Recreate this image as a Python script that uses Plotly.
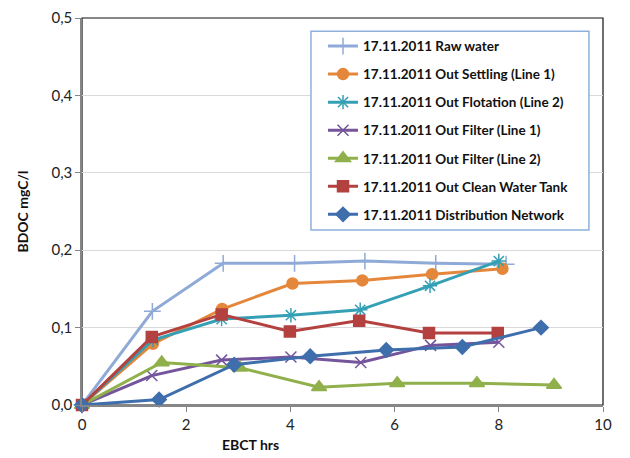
import plotly.graph_objects as go

series_names = [
    "17.11.2011 Raw water",
    "17.11.2011 Out Settling (Line 1)",
    "17.11.2011 Out Flotation (Line 2)",
    "17.11.2011 Out Filter (Line 1)",
    "17.11.2011 Out Filter (Line 2)",
    "17.11.2011 Out Clean Water Tank",
    "17.11.2011 Distribution Network",
]

raw_x = [0, 1.35, 2.71, 4.08, 5.43, 6.79, 8.14]
raw_y = [0, 0.121, 0.183, 0.183, 0.186, 0.183, 0.182]
settling_x = [0, 1.36, 2.69, 4.04, 5.38, 6.72, 8.07]
settling_y = [0, 0.079, 0.124, 0.157, 0.161, 0.169, 0.176]
flotation_x = [0, 1.36, 2.68, 4.01, 5.34, 6.68, 8.0]
flotation_y = [0, 0.084, 0.111, 0.116, 0.123, 0.154, 0.186]
filter1_x = [0, 1.34, 2.68, 4.01, 5.35, 6.69, 8.0]
filter1_y = [0, 0.038, 0.058, 0.062, 0.055, 0.077, 0.081]
filter2_x = [0, 1.53, 3.03, 4.55, 6.05, 7.58, 9.06]
filter2_y = [0, 0.055, 0.048, 0.023, 0.028, 0.028, 0.026]
tank_x = [0, 1.34, 2.68, 3.99, 5.32, 6.66, 7.98]
tank_y = [0, 0.088, 0.117, 0.095, 0.109, 0.093, 0.093]
dist_x = [0, 1.48, 2.92, 4.38, 5.84, 7.3, 8.81]
dist_y = [0, 0.007, 0.052, 0.063, 0.071, 0.075, 0.100]

xs = [raw_x, settling_x, flotation_x, filter1_x, filter2_x, tank_x, dist_x]
ys = [raw_y, settling_y, flotation_y, filter1_y, filter2_y, tank_y, dist_y]
colors = ["#8FAAD7", "#E5873A", "#35A0B5", "#74559C", "#8FB04B", "#B3413F", "#3E6EAC"]
symbols = ["cross-thin-open", "circle", "asterisk-open", "x-thin-open",
           "triangle-up", "square", "diamond"]
sizes = [12, 11, 12, 11, 13, 11, 11]

FONT = "Lato"

fig = go.Figure()
for i, name in enumerate(series_names):
    fig.add_trace(go.Scatter(
        x=xs[i], y=ys[i], name=name, mode="lines+markers",
        legendgroup=f"g{i}",
        line=dict(color=colors[i], width=3),
        marker=dict(symbol=symbols[i], size=sizes[i], color=colors[i],
                    line=dict(color=colors[i], width=1.5)),
        cliponaxis=False,
    ))

# The page adds an 8px body margin; the figure is sized to compensate.
fig.update_layout(
    width=622, height=450,
    margin=dict(l=74, r=27, t=10, b=53, autoexpand=False),
    paper_bgcolor="white", plot_bgcolor="white",
    separators=", ",
    font=dict(family=FONT, size=14, color="#222222"),
    showlegend=True,
    legend=dict(
        x=0.4626, y=0.967, xanchor="left", yanchor="top",
        borderwidth=0, bgcolor="rgba(0,0,0,0)",
        font=dict(family=FONT, size=13.5, color="#111111", weight="bold"),
        tracegroupgap=7.5, itemwidth=30,
    ),
    xaxis=dict(
        range=[0, 10], dtick=2, tick0=0, automargin=False,
        showgrid=False, zeroline=False,
        showline=True, linecolor="#868686", linewidth=1.5,
        ticks="outside", ticklen=5, tickcolor="#868686",
        tickfont=dict(family=FONT, size=15, color="#222222"),
    ),
    yaxis=dict(
        range=[0, 0.5], dtick=0.1, tick0=0, tickformat=".1f", automargin=False,
        showgrid=True, gridcolor="#D9D9D9", gridwidth=1,
        zeroline=False,
        showline=True, linecolor="#868686", linewidth=1.5,
        ticks="outside", ticklen=5, tickcolor="#868686",
        tickfont=dict(family=FONT, size=15, color="#222222"),
        title=dict(text="BDOC mgC/l", standoff=20,
                   font=dict(family=FONT, size=14, color="#111111", weight="bold")),
    ),
    shapes=[
        dict(type="rect", xref="paper", yref="paper", x0=0, y0=0, x1=1, y1=1,
             line=dict(color="#111111", width=1.2), layer="below"),
        dict(type="rect", xref="paper", yref="paper", x0=0.4395, y0=0.452,
             x1=0.973, y1=0.966, fillcolor="white",
             line=dict(color="#8DB0DD", width=1.5), layer="above"),
    ],
    annotations=[dict(text="<b>EBCT hrs</b>", xref="paper", yref="paper",
                      x=0.324, y=-0.103, xanchor="center", yanchor="middle",
                      showarrow=False,
                      font=dict(family=FONT, size=14, color="#111111"))],
)

fig.write_html("out.html")
